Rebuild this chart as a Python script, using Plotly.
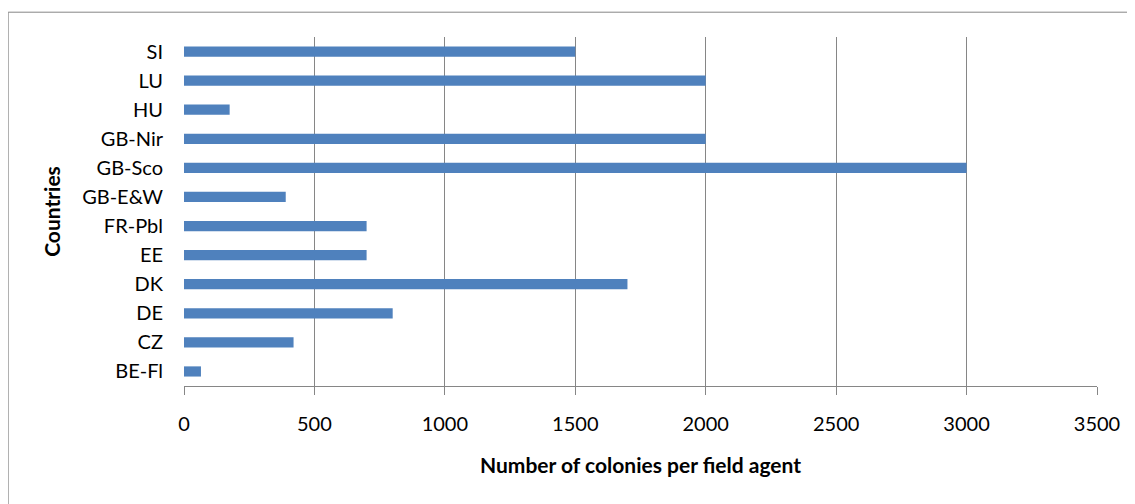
import plotly.graph_objects as go

countries = ["BE-Fl", "CZ", "DE", "DK", "EE", "FR-Pbl", "GB-E&W", "GB-Sco", "GB-Nir", "HU", "LU", "SI"]
colonies = [65, 420, 800, 1700, 700, 700, 390, 3000, 2000, 175, 2000, 1500]
x_ticks = [0, 500, 1000, 1500, 2000, 2500, 3000, 3500]

FONT = "Lato, 'Open Sans', sans-serif"
GRID = "#868686"
TICK_SIZE = 20
TITLE_SIZE = 21

# plot-area geometry (figure pixels)
L, R, T, B = 176.3, 46, 28.8, 126.2
PW = 1135 - L - R
PH = 504 - T - B

fig = go.Figure(
    go.Bar(
        x=colonies,
        y=countries,
        orientation="h",
        marker=dict(color="#4f81bd", line=dict(width=0)),
        width=0.35,
    )
)

fig.update_layout(
    width=1135,
    height=504,
    margin=dict(l=L, r=R, t=T, b=B, autoexpand=False),
    paper_bgcolor="white",
    plot_bgcolor="white",
    showlegend=False,
    font=dict(family=FONT, size=TICK_SIZE, color="#000000"),
)

fig.update_xaxes(
    range=[0, 3500],
    tickvals=x_ticks,
    ticktext=[str(v) for v in x_ticks],
    showgrid=True,
    gridcolor=GRID,
    gridwidth=1,
    zeroline=False,
    showline=True,
    linecolor=GRID,
    linewidth=1,
    ticks="outside",
    ticklen=8,
    tickcolor=GRID,
    tickfont=dict(family=FONT, size=TICK_SIZE, color="#000000"),
    ticklabelstandoff=12,
    title=dict(
        text="<b>Number of colonies per field agent</b>",
        font=dict(family=FONT, size=TITLE_SIZE, color="#000000"),
        standoff=24,
    ),
    automargin=False,
)

fig.update_yaxes(
    categoryorder="array",
    categoryarray=countries,
    showgrid=False,
    zeroline=False,
    showline=False,
    ticks="",
    tickfont=dict(family=FONT, size=TICK_SIZE, color="#000000"),
    ticklabelstandoff=20,
    title=dict(
        text="<b>Countries</b>",
        font=dict(family=FONT, size=TITLE_SIZE, color="#000000"),
        standoff=15,
    ),
    automargin=False,
)

# outer chart-area border (extends past right and bottom edges of the frame)
fig.add_shape(
    type="rect",
    xref="paper", yref="paper",
    x0=(0.5 - L) / PW, x1=1.2,
    y0=-0.6, y1=(504 - B - 4) / PH,
    line=dict(color=GRID, width=1),
    fillcolor="rgba(0,0,0,0)",
    layer="below",
)

fig.write_html("out.html")
